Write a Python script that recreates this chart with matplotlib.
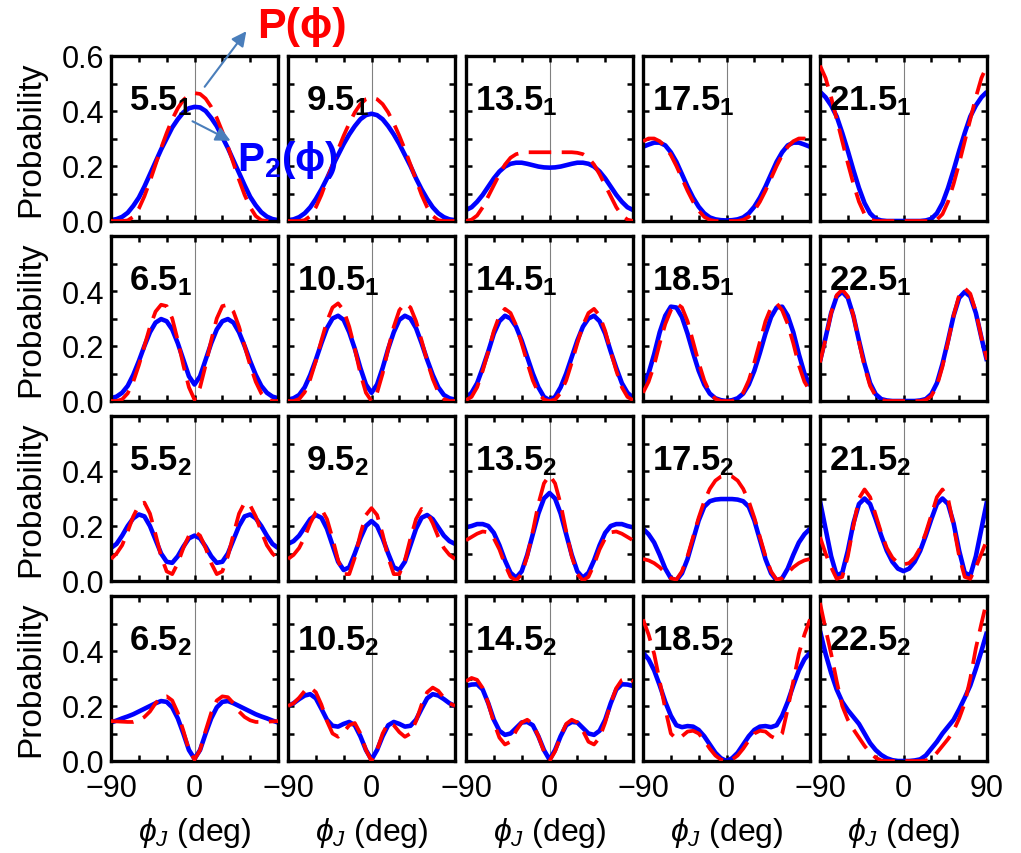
import numpy as np
import matplotlib
matplotlib.use("Agg")
import matplotlib.pyplot as plt

plt.rcParams['font.family'] = ['Liberation Sans', 'DejaVu Sans']
plt.rcParams['mathtext.fontset'] = 'custom'
plt.rcParams['mathtext.rm'] = 'Liberation Sans'
plt.rcParams['mathtext.it'] = 'Liberation Sans:italic'
plt.rcParams['mathtext.bf'] = 'Liberation Sans:bold'
plt.rcParams['mathtext.fallback'] = 'stixsans'
plt.rcParams['axes.unicode_minus'] = True

# phi_J grid, degrees
phi = [-90, -84, -78, -72, -66, -60, -54, -48, -42, -36, -30, -24, -18, -12, -6, 0,
       6, 12, 18, 24, 30, 36, 42, 48, 54, 60, 66, 72, 78, 84, 90]

# P2(phi) (blue) and P(phi) (red)
p2_551 = [0.003, 0.007, 0.015, 0.03, 0.055, 0.085, 0.125, 0.17, 0.215, 0.26, 0.30, 0.34, 0.37, 0.395, 0.41, 0.415,
          0.413, 0.40, 0.375, 0.345, 0.305, 0.265, 0.22, 0.175, 0.13, 0.088, 0.057, 0.032, 0.016, 0.007, 0.003]
p_551 = [0, 0, 0, 0.002, 0.015, 0.045, 0.09, 0.145, 0.205, 0.265, 0.32, 0.37, 0.41, 0.44, 0.458, 0.465,
         0.462, 0.445, 0.415, 0.375, 0.325, 0.27, 0.21, 0.15, 0.095, 0.05, 0.018, 0.003, 0, 0, 0]

p2_951 = [0.003, 0.006, 0.014, 0.028, 0.05, 0.08, 0.115, 0.155, 0.2, 0.24, 0.28, 0.315, 0.345, 0.37, 0.385, 0.39,
          0.385, 0.37, 0.345, 0.315, 0.28, 0.24, 0.2, 0.155, 0.115, 0.08, 0.05, 0.028, 0.014, 0.006, 0.003]
p_951 = [0, 0, 0, 0.003, 0.018, 0.05, 0.095, 0.15, 0.205, 0.26, 0.31, 0.355, 0.395, 0.425, 0.443, 0.45,
         0.443, 0.425, 0.395, 0.355, 0.31, 0.26, 0.205, 0.15, 0.095, 0.05, 0.018, 0.003, 0, 0, 0]

p2_1351 = [0.04, 0.05, 0.07, 0.095, 0.125, 0.155, 0.18, 0.198, 0.208, 0.212, 0.212, 0.208, 0.203, 0.198, 0.195, 0.194,
           0.195, 0.198, 0.203, 0.208, 0.212, 0.212, 0.208, 0.198, 0.18, 0.155, 0.125, 0.095, 0.07, 0.05, 0.04]
p_1351 = [0.0, 0.005, 0.02, 0.05, 0.09, 0.13, 0.17, 0.205, 0.23, 0.243, 0.248, 0.25, 0.25, 0.25, 0.25, 0.25,
          0.25, 0.25, 0.25, 0.25, 0.248, 0.243, 0.23, 0.205, 0.17, 0.13, 0.09, 0.05, 0.02, 0.005, 0.0]

p2_1751 = [0.27, 0.278, 0.285, 0.285, 0.275, 0.25, 0.215, 0.17, 0.125, 0.085, 0.052, 0.028, 0.013, 0.006, 0.003, 0.002,
           0.003, 0.006, 0.013, 0.028, 0.052, 0.085, 0.125, 0.17, 0.215, 0.25, 0.275, 0.285, 0.285, 0.278, 0.27]
p_1751 = [0.29, 0.3, 0.3, 0.29, 0.27, 0.24, 0.2, 0.155, 0.11, 0.07, 0.038, 0.015, 0.004, 0, 0, 0,
          0, 0, 0.004, 0.015, 0.038, 0.07, 0.11, 0.155, 0.2, 0.24, 0.27, 0.29, 0.3, 0.3, 0.29]

p2_2151 = [0.47, 0.45, 0.42, 0.38, 0.32, 0.255, 0.185, 0.12, 0.065, 0.028, 0.008, 0.002, 0, 0, 0, 0,
           0, 0, 0, 0.002, 0.008, 0.028, 0.065, 0.12, 0.185, 0.255, 0.32, 0.38, 0.42, 0.45, 0.47]
p_2151 = [0.565, 0.52, 0.45, 0.37, 0.29, 0.21, 0.135, 0.07, 0.025, 0.005, 0, 0, 0, 0, 0, 0,
          0, 0, 0, 0, 0, 0.005, 0.025, 0.07, 0.135, 0.21, 0.29, 0.37, 0.45, 0.52, 0.565]

p2_651 = [0.01, 0.016, 0.03, 0.055, 0.095, 0.145, 0.2, 0.25, 0.285, 0.298, 0.29, 0.26, 0.21, 0.15, 0.09, 0.06,
          0.09, 0.15, 0.21, 0.26, 0.29, 0.298, 0.285, 0.25, 0.2, 0.145, 0.095, 0.055, 0.03, 0.016, 0.01]
p_651 = [0, 0, 0.006, 0.028, 0.07, 0.13, 0.2, 0.27, 0.325, 0.35, 0.345, 0.3, 0.22, 0.13, 0.05, 0.005,
         0.05, 0.13, 0.22, 0.3, 0.345, 0.35, 0.325, 0.27, 0.2, 0.13, 0.07, 0.028, 0.006, 0, 0]

p2_1051 = [0.005, 0.01, 0.022, 0.05, 0.095, 0.15, 0.21, 0.265, 0.3, 0.31, 0.295, 0.25, 0.19, 0.12, 0.06, 0.03,
           0.06, 0.12, 0.19, 0.25, 0.295, 0.31, 0.3, 0.265, 0.21, 0.15, 0.095, 0.05, 0.022, 0.01, 0.005]
p_1051 = [0, 0, 0.007, 0.032, 0.08, 0.145, 0.22, 0.29, 0.34, 0.355, 0.33, 0.27, 0.19, 0.1, 0.03, 0,
          0.03, 0.1, 0.19, 0.27, 0.33, 0.355, 0.34, 0.29, 0.22, 0.145, 0.08, 0.032, 0.007, 0, 0]

p2_1451 = [0.012, 0.03, 0.065, 0.12, 0.18, 0.245, 0.29, 0.31, 0.3, 0.27, 0.22, 0.16, 0.1, 0.05, 0.015, 0.003,
           0.015, 0.05, 0.1, 0.16, 0.22, 0.27, 0.3, 0.31, 0.29, 0.245, 0.18, 0.12, 0.065, 0.03, 0.012]
p_1451 = [0.003, 0.015, 0.05, 0.11, 0.18, 0.255, 0.31, 0.335, 0.32, 0.275, 0.21, 0.14, 0.075, 0.03, 0.005, 0,
          0.005, 0.03, 0.075, 0.14, 0.21, 0.275, 0.32, 0.335, 0.31, 0.255, 0.18, 0.11, 0.05, 0.015, 0.003]

p2_1851 = [0.055, 0.1, 0.17, 0.25, 0.31, 0.343, 0.34, 0.305, 0.245, 0.175, 0.11, 0.06, 0.027, 0.01, 0.003, 0,
           0.003, 0.01, 0.027, 0.06, 0.11, 0.175, 0.245, 0.305, 0.34, 0.343, 0.31, 0.25, 0.17, 0.1, 0.055]
p_1851 = [0.03, 0.07, 0.13, 0.21, 0.28, 0.33, 0.355, 0.34, 0.29, 0.215, 0.14, 0.075, 0.03, 0.008, 0, 0,
          0, 0.008, 0.03, 0.075, 0.14, 0.215, 0.29, 0.34, 0.355, 0.33, 0.28, 0.21, 0.13, 0.07, 0.036]

p2_2251 = [0.145, 0.23, 0.32, 0.38, 0.397, 0.375, 0.31, 0.22, 0.135, 0.065, 0.025, 0.007, 0.002, 0, 0, 0,
           0, 0, 0.002, 0.007, 0.025, 0.065, 0.135, 0.22, 0.31, 0.375, 0.397, 0.38, 0.32, 0.23, 0.145]
p_2251 = [0.14, 0.225, 0.32, 0.385, 0.405, 0.38, 0.31, 0.215, 0.125, 0.055, 0.018, 0.004, 0, 0, 0, 0,
          0, 0, 0, 0.004, 0.018, 0.055, 0.125, 0.215, 0.31, 0.385, 0.41, 0.39, 0.325, 0.23, 0.15]

p2_552 = [0.12, 0.135, 0.165, 0.2, 0.228, 0.242, 0.235, 0.2, 0.15, 0.1, 0.07, 0.066, 0.09, 0.125, 0.155, 0.165,
          0.155, 0.125, 0.09, 0.066, 0.07, 0.1, 0.15, 0.2, 0.235, 0.242, 0.228, 0.2, 0.165, 0.135, 0.12]
p_552 = [0.08, 0.1, 0.13, 0.18, 0.235, 0.275, 0.285, 0.245, 0.17, 0.09, 0.035, 0.025, 0.065, 0.12, 0.165, 0.18,
         0.165, 0.12, 0.065, 0.025, 0.035, 0.09, 0.17, 0.245, 0.285, 0.275, 0.235, 0.18, 0.13, 0.1, 0.08]

p2_952 = [0.135, 0.145, 0.165, 0.195, 0.225, 0.24, 0.23, 0.19, 0.13, 0.07, 0.04, 0.05, 0.1, 0.155, 0.2, 0.218,
          0.2, 0.155, 0.1, 0.05, 0.04, 0.07, 0.13, 0.19, 0.23, 0.24, 0.225, 0.195, 0.165, 0.145, 0.135]
p_952 = [0.08, 0.095, 0.12, 0.16, 0.21, 0.25, 0.262, 0.225, 0.155, 0.075, 0.025, 0.025, 0.085, 0.17, 0.24, 0.265,
         0.24, 0.17, 0.085, 0.025, 0.025, 0.075, 0.155, 0.225, 0.262, 0.25, 0.21, 0.16, 0.12, 0.095, 0.08]

p2_1352 = [0.195, 0.2, 0.207, 0.207, 0.2, 0.175, 0.13, 0.075, 0.03, 0.012, 0.035, 0.095, 0.17, 0.245, 0.3, 0.32,
           0.3, 0.245, 0.17, 0.095, 0.035, 0.012, 0.03, 0.075, 0.13, 0.175, 0.2, 0.207, 0.207, 0.2, 0.195]
p_1352 = [0.148, 0.16, 0.172, 0.18, 0.177, 0.155, 0.115, 0.06, 0.015, 0.002, 0.025, 0.09, 0.18, 0.28, 0.355, 0.385,
          0.355, 0.28, 0.18, 0.09, 0.025, 0.002, 0.015, 0.06, 0.115, 0.155, 0.177, 0.18, 0.172, 0.16, 0.148]

p2_1752 = [0.19, 0.17, 0.14, 0.095, 0.045, 0.01, 0.002, 0.028, 0.08, 0.15, 0.22, 0.27, 0.29, 0.296, 0.298, 0.298,
           0.298, 0.296, 0.29, 0.27, 0.22, 0.15, 0.08, 0.028, 0.002, 0.01, 0.045, 0.095, 0.14, 0.17, 0.19]
p_1752 = [0.08, 0.075, 0.065, 0.05, 0.03, 0.01, 0.005, 0.035, 0.09, 0.16, 0.23, 0.29, 0.335, 0.365, 0.38, 0.385,
          0.38, 0.365, 0.335, 0.29, 0.23, 0.16, 0.09, 0.035, 0.005, 0.01, 0.03, 0.05, 0.065, 0.075, 0.08]

p2_2152 = [0.29, 0.19, 0.09, 0.02, 0.03, 0.11, 0.21, 0.28, 0.3, 0.28, 0.225, 0.165, 0.11, 0.07, 0.045, 0.036,
           0.045, 0.07, 0.11, 0.165, 0.225, 0.28, 0.3, 0.28, 0.21, 0.11, 0.03, 0.02, 0.09, 0.19, 0.29]
p_2152 = [0.16, 0.1, 0.05, 0.008, 0.015, 0.09, 0.2, 0.3, 0.333, 0.305, 0.24, 0.175, 0.12, 0.085, 0.065, 0.06,
          0.065, 0.085, 0.12, 0.175, 0.24, 0.305, 0.333, 0.3, 0.2, 0.09, 0.015, 0.008, 0.05, 0.1, 0.15]

p2_652 = [0.14, 0.147, 0.155, 0.162, 0.17, 0.18, 0.19, 0.2, 0.21, 0.218, 0.215, 0.195, 0.155, 0.1, 0.04, 0.008,
          0.04, 0.1, 0.155, 0.195, 0.215, 0.218, 0.21, 0.2, 0.19, 0.18, 0.17, 0.162, 0.155, 0.147, 0.14]
p_652 = [0.145, 0.144, 0.143, 0.142, 0.142, 0.148, 0.16, 0.18, 0.21, 0.232, 0.235, 0.22, 0.175, 0.11, 0.04, 0.005,
         0.04, 0.11, 0.175, 0.22, 0.235, 0.232, 0.21, 0.18, 0.16, 0.148, 0.142, 0.142, 0.143, 0.144, 0.145]

p2_1052 = [0.2, 0.21, 0.225, 0.238, 0.243, 0.228, 0.19, 0.15, 0.128, 0.125, 0.135, 0.142, 0.13, 0.09, 0.04, 0.005,
           0.04, 0.09, 0.13, 0.142, 0.135, 0.125, 0.128, 0.15, 0.19, 0.228, 0.243, 0.238, 0.225, 0.21, 0.2]
p_1052 = [0.2, 0.21, 0.23, 0.255, 0.267, 0.25, 0.205, 0.145, 0.1, 0.088, 0.105, 0.13, 0.138, 0.1, 0.04, 0,
          0.04, 0.1, 0.138, 0.13, 0.105, 0.088, 0.1, 0.145, 0.205, 0.25, 0.267, 0.255, 0.23, 0.21, 0.2]

p2_1452 = [0.273, 0.278, 0.279, 0.26, 0.21, 0.15, 0.11, 0.095, 0.1, 0.12, 0.14, 0.142, 0.13, 0.09, 0.04, 0.005,
           0.04, 0.09, 0.13, 0.142, 0.14, 0.12, 0.1, 0.095, 0.11, 0.15, 0.21, 0.26, 0.279, 0.278, 0.273]
p_1452 = [0.29, 0.302, 0.295, 0.265, 0.21, 0.14, 0.085, 0.06, 0.07, 0.11, 0.14, 0.15, 0.135, 0.09, 0.035, 0,
          0.035, 0.09, 0.135, 0.15, 0.14, 0.11, 0.07, 0.06, 0.085, 0.14, 0.21, 0.265, 0.295, 0.302, 0.29]

p2_1852 = [0.394, 0.37, 0.33, 0.275, 0.215, 0.165, 0.13, 0.123, 0.127, 0.125, 0.113, 0.09, 0.06, 0.03, 0.01, 0,
           0.01, 0.03, 0.06, 0.09, 0.113, 0.125, 0.127, 0.123, 0.13, 0.165, 0.215, 0.275, 0.33, 0.37, 0.394]
p_1852 = [0.515, 0.46, 0.39, 0.29, 0.19, 0.1, 0.08, 0.09, 0.107, 0.11, 0.1, 0.075, 0.045, 0.02, 0.005, 0,
          0.005, 0.02, 0.045, 0.075, 0.1, 0.11, 0.107, 0.09, 0.08, 0.1, 0.19, 0.29, 0.39, 0.46, 0.515]

p2_2252 = [0.473, 0.39, 0.32, 0.26, 0.215, 0.185, 0.16, 0.135, 0.1, 0.065, 0.04, 0.022, 0.01, 0.003, 0, 0,
           0, 0.002, 0.006, 0.02, 0.045, 0.07, 0.1, 0.125, 0.15, 0.188, 0.23, 0.275, 0.335, 0.4, 0.47]
p_2252 = [0.575, 0.48, 0.39, 0.29, 0.2, 0.15, 0.115, 0.085, 0.055, 0.03, 0.012, 0.002, 0, 0, 0, 0,
          0, 0, 0, 0.002, 0.008, 0.03, 0.055, 0.08, 0.11, 0.155, 0.21, 0.3, 0.41, 0.5, 0.585]

labels = [["5.5", "9.5", "13.5", "17.5", "21.5"],
          ["6.5", "10.5", "14.5", "18.5", "22.5"],
          ["5.5", "9.5", "13.5", "17.5", "21.5"],
          ["6.5", "10.5", "14.5", "18.5", "22.5"]]
subs = ["1", "1", "2", "2"]

blue_rows = [[p2_551, p2_951, p2_1351, p2_1751, p2_2151],
             [p2_651, p2_1051, p2_1451, p2_1851, p2_2251],
             [p2_552, p2_952, p2_1352, p2_1752, p2_2152],
             [p2_652, p2_1052, p2_1452, p2_1852, p2_2252]]
red_rows = [[p_551, p_951, p_1351, p_1751, p_2151],
            [p_651, p_1051, p_1451, p_1851, p_2251],
            [p_552, p_952, p_1352, p_1752, p_2152],
            [p_652, p_1052, p_1452, p_1852, p_2252]]

W, H = 1021, 854
fig = plt.figure(figsize=(W / 100, H / 100), dpi=100)

lefts = [111, 288, 466, 643, 820]
tops = [57, 237, 417, 597]
pw, ph = 167, 165

axes = []
for r in range(4):
    for c in range(5):
        ax = fig.add_axes([lefts[c] / W, (H - tops[r] - ph) / H, pw / W, ph / H])
        axes.append(ax)
        ax.axvline(0, color='gray', lw=0.8, zorder=1)
        ax.plot(phi, blue_rows[r][c], color='#0000ff', lw=3.3, solid_capstyle='butt', zorder=2)
        ax.plot(phi, red_rows[r][c], color='#ff0000', lw=2.7, dashes=(6, 2.8), zorder=3)
        ax.set_xlim(-90, 90)
        ax.set_ylim(0, 0.6)
        for s in ax.spines.values():
            s.set_linewidth(2.4)
        ax.tick_params(direction='in', length=4, width=1.8, top=True, right=True,
                       labelsize=22, pad=5)
        ax.tick_params(axis='x', pad=9)
        ax.set_xticks([-90, -60, -30, 0, 30, 60, 90])
        if r == 3:
            xl = ['\u221290', '', '', '0', '', '', '90' if c == 4 else '']
            ax.set_xticklabels(xl)
            ax.set_xlabel(r'$\phi_J$ (deg)', fontsize=23, labelpad=8)
        else:
            ax.set_xticklabels([])
        ax.set_yticks([0, 0.1, 0.2, 0.3, 0.4, 0.5, 0.6])
        if c == 0:
            yl = ['0.0', '', '0.2', '', '0.4', '', '0.6' if r == 0 else '']
            ax.set_yticklabels(yl)
            ax.set_ylabel('Probability', fontsize=24, labelpad=11)
        else:
            ax.set_yticklabels([])
        ax.text(50 / pw, 1 - 53 / ph,
                r'$\mathbf{' + labels[r][c] + r'}_{\mathbf{' + subs[r] + '}}$',
                transform=ax.transAxes, fontsize=25, ha='center', va='baseline', zorder=5)

# annotations for the two curves
fig.text(257 / W, 1 - 27 / H, 'P(\u03d5)', color='#ff0000', fontsize=31, fontweight='bold',
         ha='left', va='center', zorder=10)
fig.text(237 / W, 1 - 160 / H, r'P$_\mathbf{2}$(' + '\u03d5)', color='#0000ff', fontsize=29,
         fontweight='bold', ha='left', va='center', zorder=10)
fig.add_artist(matplotlib.patches.FancyArrowPatch(
    (203, H - 90), (248, H - 30), transform=None, arrowstyle='-|>', color='#4a7ebb',
    lw=1.5, mutation_scale=22, zorder=10))
fig.add_artist(matplotlib.patches.FancyArrowPatch(
    (190, H - 121), (233, H - 143), transform=None, arrowstyle='-|>', color='#4a7ebb',
    lw=1.5, mutation_scale=22, zorder=10))

fig.savefig('out.png', dpi=100)
